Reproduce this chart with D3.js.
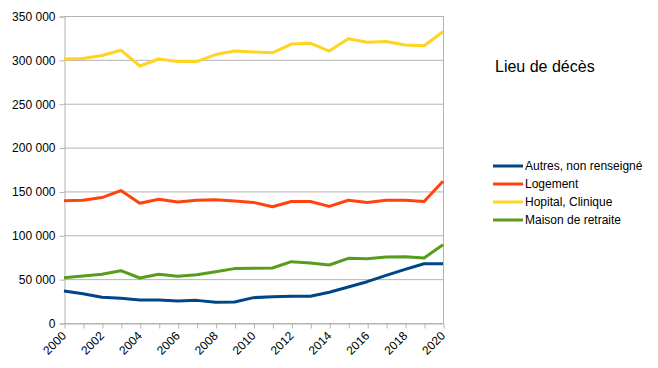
<!DOCTYPE html>
<html><head><meta charset="utf-8">
<script src="https://cdn.jsdelivr.net/npm/d3@7"></script>
<style>body{margin:0;background:#fff}svg{display:block;font-family:"Liberation Sans",Arial,sans-serif}</style>
</head><body><svg id="c" width="658" height="368"></svg>
<script>
const years = d3.range(2000, 2021);
const autres = [36500,33400,29300,28100,26200,26200,25100,25800,23600,24000,28900,30000,30400,30400,35000,41000,47100,54300,61200,67600,67600];
const logement = [139400,140000,143000,151000,136500,141000,138000,140000,140500,139000,137500,132500,138500,138500,133000,140000,137500,140000,140000,138500,161500];
const hopital = [301000,301500,305000,311000,293000,301000,298000,298000,306000,310000,309000,308000,318000,319000,310000,324000,320000,321000,317000,316000,332000];
const maison = [51700,53500,55500,59600,51300,55500,53200,55100,58500,62000,62300,62700,69900,68400,66100,73700,73300,75200,75600,74100,89300];
const yTicks = [0,50000,100000,150000,200000,250000,300000,350000];
const seriesNames = ["Autres, non renseigné","Logement","Hopital, Clinique","Maison de retraite"];
const seriesColors = ["#004586","#ff420e","#ffd320","#579d1c"];
const seriesData = [autres, logement, hopital, maison];
const legendTitle = "Lieu de décès";

const svg = d3.select("#c");
const x = d3.scaleLinear().domain([2000,2020]).range([64,443]);
const y = d3.scaleLinear().domain([0,350000]).range([323,16]);
const fmt = v => d3.format(",")(v).replace(/,/g," ");

// gridlines
svg.append("g").selectAll("line").data(yTicks).join("line")
  .attr("x1",64).attr("x2",443).attr("y1",d=>y(d)+0.5).attr("y2",d=>y(d)+0.5)
  .attr("stroke","#b3b3b3").attr("stroke-width",1);
// right border
svg.append("line").attr("x1",443.5).attr("x2",443.5).attr("y1",y(350000)).attr("y2",y(0))
  .attr("stroke","#b3b3b3");

// y axis
const ya = svg.append("g").attr("transform","translate(64.5,0.5)")
  .call(d3.axisLeft(y).tickValues(yTicks).tickFormat(fmt).tickSize(5).tickPadding(4));
ya.select(".domain").attr("stroke","#b3b3b3");
ya.selectAll(".tick line").attr("stroke","#b3b3b3");
ya.selectAll("text").attr("font-size",12).attr("fill","#000").style("font-family","Liberation Sans, Arial, sans-serif");

// x axis
const xa = svg.append("g").attr("transform","translate(0.5,323.5)")
  .call(d3.axisBottom(x).tickValues(years).tickFormat(d=>d%2===0?String(d):"").tickSize(5).tickSizeOuter(0));
xa.select(".domain").attr("stroke","#b3b3b3");
xa.selectAll(".tick line").attr("stroke","#b3b3b3");
xa.selectAll("text").attr("font-size",12).attr("fill","#000")
  .style("font-family","Liberation Sans, Arial, sans-serif")
  .attr("text-anchor","end").attr("dy","0").attr("y",0)
  .attr("transform","translate(2,13) rotate(-45)");

// lines
const line = d3.line().x((d,i)=>x(years[i])).y(d=>y(d));
svg.append("g").selectAll("path").data(seriesData).join("path")
  .attr("d",line).attr("fill","none")
  .attr("stroke",(d,i)=>seriesColors[i]).attr("stroke-width",3)
  .attr("stroke-linejoin","round");

// legend
svg.append("text").attr("x",495).attr("y",72).attr("font-size",16).attr("fill","#000").text(legendTitle);
const lg = svg.append("g").selectAll("g").data(seriesNames).join("g")
  .attr("transform",(d,i)=>`translate(493,${166+i*18})`);
lg.append("line").attr("x1",0).attr("x2",30).attr("y1",0).attr("y2",0)
  .attr("stroke",(d,i)=>seriesColors[i]).attr("stroke-width",3);
lg.append("text").attr("x",32).attr("y",4).attr("font-size",12).attr("fill","#000").text(d=>d);
</script></body></html>
